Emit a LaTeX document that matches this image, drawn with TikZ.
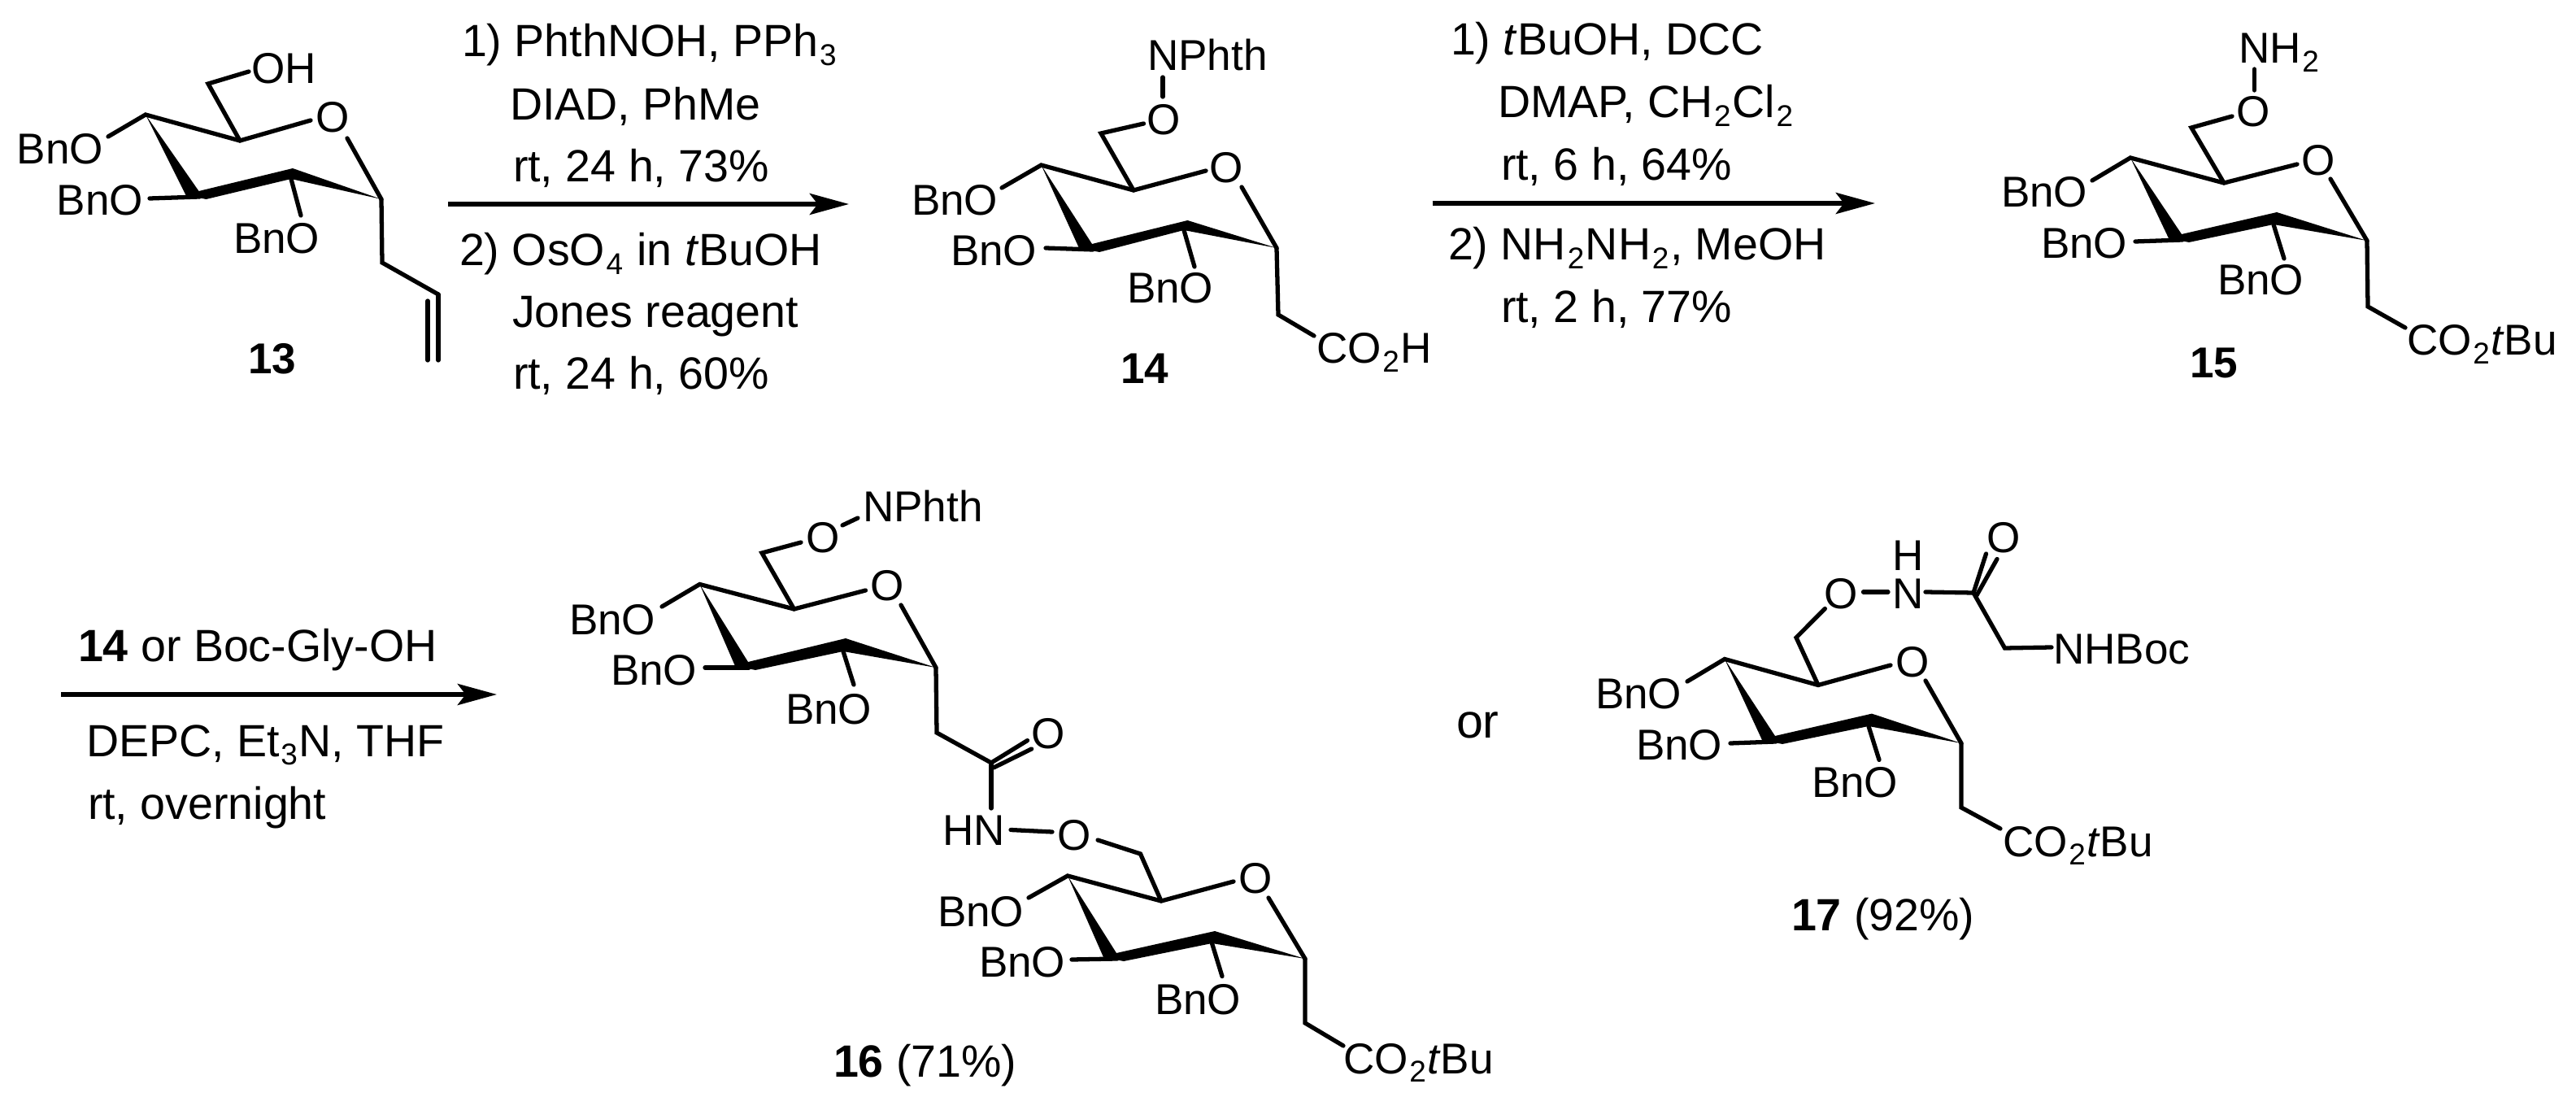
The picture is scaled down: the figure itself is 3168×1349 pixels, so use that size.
\documentclass[tikz,border=0pt]{standalone}
\usepackage{fontspec}
\setmainfont{Liberation Sans}
\usetikzlibrary{calc,arrows.meta}
\newcommand{\sbs}[1]{\kern0.03em\relax\raisebox{-0.19em}{\fontsize{10.5}{12}\selectfont #1}\kern0.03em\relax}
\tikzset{
  bond/.style={line width=1.5pt,line cap=round},
  wedgebond/.style={fill=black},
  rxn/.style={line width=1.6pt,-{Stealth[length=13.7pt,width=7.4pt,inset=2.8pt]}},
  txt/.style={inner sep=0pt,outer sep=0pt,anchor=base west,font=\fontsize{15.1}{18}\selectfont},
  rtxt/.style={inner sep=0pt,outer sep=0pt,anchor=base west,font=\fontsize{15.8}{18}\selectfont},
  atm/.style={inner sep=0pt,outer sep=0pt,anchor=center,font=\fontsize{15.1}{18}\selectfont},
}
\newcommand{\sugar}[1]{%
  \fill[wedgebond] (#1c4) -- ($(#1c3)+(-1,-7)$) -- (#1c2t) -- (#1c1) -- (#1c2b) -- ($(#1c3)+(8,3)$) -- ($(#1c3)+(-17,-2)$) -- cycle;
  \draw[bond] (#1b1) -- (#1c4) -- (#1c5) -- (#1oa);
  \draw[bond] (#1c5) -- (#1c6) -- (#1x);
  \draw[bond] (#1b2) -- (#1c3);
  \draw[bond] (#1ob) -- (#1c1);
  \draw[bond] (#1c2b) -- (#1b3);
  \draw[bond] (#1c1) -- (#1c7) -- (#1c8);
}
\begin{document}
\begin{tikzpicture}[x=0.01cm,y=-0.01cm]
\useasboundingbox (0,0) rectangle (3168,1349);
\fill[white] (0,0) rectangle (3168,1349);

% ---------- 13
\coordinate (ac6) at (256,103);\coordinate (ax) at (306,88);
\coordinate (ac5) at (295,173);\coordinate (aoa) at (382,148);
\coordinate (ac4) at (179,141);\coordinate (ab1) at (133,168);
\coordinate (ac3) at (245.5,242);\coordinate (ab2) at (184,244);
\coordinate (ac2t) at (360,207);\coordinate (ac2b) at (358,220);\coordinate (ab3) at (370,265);
\coordinate (ac1) at (469,245);\coordinate (aob) at (427,170);
\coordinate (ac7) at (470,323);\coordinate (ac8) at (539,362);
\coordinate (av1) at (539,443);\coordinate (av2) at (526,370);\coordinate (av3) at (526,443);
\sugar{a}
\draw[bond] (ac8) -- (av1);
\draw[bond] (av2) -- (av3);
\node[txt] (aOH) at (309,103) {OH};
\node[atm] (aO) at (409,144) {O};
\node[txt] (aBn1) at (21,202) {BnO};
\node[txt] (aBn2) at (70,265) {BnO};
\node[txt] (aBn3) at (287,312) {BnO};
\node[txt] (aLab) at (305,460) {\textbf{13}};

% ---------- arrow 1
\coordinate (r1s) at (551,251);\coordinate (r1e) at (1044,251);
\draw[rxn] (r1s) -- (r1e);
\node[rtxt] (t11) at (568,70) {1) PhthNOH, PPh\sbs{3}};
\node[rtxt] (t12) at (627,148) {DIAD, PhMe};
\node[rtxt] (t13) at (631,224) {rt, 24 h, 73\%};
\node[rtxt] (t14) at (565,327) {2) OsO\sbs{4} in \textit{t}BuOH};
\node[rtxt] (t15) at (630,403) {Jones reagent};
\node[rtxt] (t16) at (631,479) {rt, 24 h, 60\%};

% ---------- 14
\coordinate (bn1) at (1430,95);\coordinate (bn2) at (1430,119);
\coordinate (bc6) at (1354,164);\coordinate (bx) at (1406.5,152);
\coordinate (bc5) at (1394,234);\coordinate (boa) at (1483,210);
\coordinate (bc4) at (1280.5,203);\coordinate (bb1) at (1232,231);
\coordinate (bc3) at (1344,307);\coordinate (bb2) at (1286,305);
\coordinate (bc2t) at (1460.5,271);\coordinate (bc2b) at (1456,283);\coordinate (bb3) at (1469,328);
\coordinate (bc1) at (1570,305);\coordinate (bob) at (1527,230);
\coordinate (bc7) at (1572,387);\coordinate (bc8) at (1616,413);
\sugar{b}
\draw[bond] (bn1) -- (bn2);
\node[txt] (bNPh) at (1411,87) {NPhth};
\node[atm] (bOa) at (1431.5,147) {O};
\node[atm] (bO) at (1508.5,206) {O};
\node[txt] (bBn1) at (1121,265) {BnO};
\node[txt] (bBn2) at (1169,327) {BnO};
\node[txt] (bBn3) at (1386,373) {BnO};
\node[txt] (bCO) at (1619,447) {CO\sbs{2}H};
\node[txt] (bLab) at (1378,472) {\textbf{14}};

% ---------- arrow 2
\coordinate (r2s) at (1761.5,250);\coordinate (r2e) at (2306,250);
\draw[rxn] (r2s) -- (r2e);
\node[rtxt] (t21) at (1784,68) {1) \textit{t}BuOH, DCC};
\node[rtxt] (t22) at (1842,145) {DMAP, CH\sbs{2}Cl\sbs{2}};
\node[rtxt] (t23) at (1846,222) {rt, 6 h, 64\%};
\node[rtxt] (t24) at (1781,320) {2) NH\sbs{2}NH\sbs{2}, MeOH};
\node[rtxt] (t25) at (1846,397) {rt, 2 h, 77\%};

% ---------- 15
\coordinate (cn1) at (2772.5,85);\coordinate (cn2) at (2772.5,111);
\coordinate (cc6) at (2695,157);\coordinate (cx) at (2745,143);
\coordinate (cc5) at (2735,225);\coordinate (coa) at (2825,202);
\coordinate (cc4) at (2620,194);\coordinate (cb1) at (2573,222);
\coordinate (cc3) at (2684,295);\coordinate (cb2) at (2626,297);
\coordinate (cc2t) at (2800,261);\coordinate (cc2b) at (2796,276);\coordinate (cb3) at (2809,318);
\coordinate (cc1) at (2911,296);\coordinate (cob) at (2866,220);
\coordinate (cc7) at (2912,377);\coordinate (cc8) at (2958,403);
\sugar{c}
\draw[bond] (cn1) -- (cn2);
\node[txt] (cNH) at (2753,78) {NH\sbs{2}};
\node[atm] (cOa) at (2771.5,137) {O};
\node[atm] (cO) at (2851,197) {O};
\node[txt] (cBn1) at (2461,255) {BnO};
\node[txt] (cBn2) at (2510,318) {BnO};
\node[txt] (cBn3) at (2727,363) {BnO};
\node[txt] (cCO) at (2960,437) {CO\sbs{2}\textit{t}Bu};
\node[txt] (cLab) at (2693,465) {\textbf{15}};

% ---------- arrow 3
\coordinate (r3s) at (75,854);\coordinate (r3e) at (611,854);
\draw[rxn] (r3s) -- (r3e);
\node[rtxt] (t31) at (96,814) {\textbf{14} or Boc-Gly-OH};
\node[rtxt] (t32) at (106,930) {DEPC, Et\sbs{3}N, THF};
\node[rtxt] (t33) at (108,1007) {rt, overnight};

% ---------- 16 upper ring
\coordinate (dn1) at (1036,646);\coordinate (dn2) at (1055,637);
\coordinate (dc6) at (937,680);\coordinate (dx) at (985,667);
\coordinate (dc5) at (976.5,749);\coordinate (doa) at (1064.5,726);
\coordinate (dc4) at (860.5,718.5);\coordinate (db1) at (814,746);
\coordinate (dc3) at (921,821);\coordinate (db2) at (867,821);
\coordinate (dc2t) at (1040,785);\coordinate (dc2b) at (1037,801);\coordinate (db3) at (1050,842);
\coordinate (dc1) at (1151,821);\coordinate (dob) at (1108,744);
\coordinate (dc7) at (1152,901);\coordinate (dc8) at (1219,938);
\sugar{d}
\draw[bond] (dn1) -- (dn2);
\coordinate (dd1) at (1263.5,910.6);\coordinate (dd2) at (1222,944);\coordinate (dd3) at (1268.6,921);
\draw[bond] (dc8) -- (dd1);
\draw[bond] (dd2) -- (dd3);
\coordinate (dn3) at (1219,994);
\draw[bond] (dc8) -- (dn3);
\coordinate (dn4) at (1243,1020.5);\coordinate (dn5) at (1294,1023);
\draw[bond] (dn4) -- (dn5);
\node[txt] (dNPh) at (1061,642) {NPhth};
\node[atm] (dOa) at (1012,661) {O};
\node[atm] (dO) at (1091,720) {O};
\node[txt] (dBn1) at (700,781) {BnO};
\node[txt] (dBn2) at (751,843) {BnO};
\node[txt] (dBn3) at (966,890) {BnO};
\node[atm] (dOc) at (1289,902) {O};
\node[txt] (dHN) at (1159,1039) {HN};
\node[atm] (dOd) at (1321,1027) {O};

% ---------- 16 lower ring
\coordinate (ec6) at (1402.5,1050);\coordinate (ex) at (1350,1033);
\coordinate (ec5) at (1428,1108);\coordinate (eoa) at (1517,1084);
\coordinate (ec4) at (1313,1077);\coordinate (eb1) at (1265,1104);
\coordinate (ec3) at (1374,1179);\coordinate (eb2) at (1318,1180);
\coordinate (ec2t) at (1494,1145);\coordinate (ec2b) at (1490.5,1160);\coordinate (eb3) at (1503,1200.6);
\coordinate (ec1) at (1605,1179);\coordinate (eob) at (1560,1104);
\coordinate (ec7) at (1605,1258);\coordinate (ec8) at (1652,1286);
\sugar{e}
\node[atm] (eO) at (1544,1080) {O};
\node[txt] (eBn1) at (1153,1139) {BnO};
\node[txt] (eBn2) at (1204,1201) {BnO};
\node[txt] (eBn3) at (1420,1247) {BnO};
\node[txt] (eCO) at (1652,1320) {CO\sbs{2}\textit{t}Bu};
\node[rtxt] (eLab) at (1025,1324) {\textbf{16} (71\%)};

\node[rtxt,font=\fontsize{16.8}{18}\selectfont] (orT) at (1791,908) {or};

% ---------- 17
\coordinate (fc6) at (2209,784);\coordinate (fx) at (2244.4,748.5);
\coordinate (fc5) at (2236,842.5);\coordinate (foa) at (2325,818);
\coordinate (fc4) at (2121,810.5);\coordinate (fb1) at (2075,838);
\coordinate (fc3) at (2184,912);\coordinate (fb2) at (2128,914);
\coordinate (fc2t) at (2302,877.6);\coordinate (fc2b) at (2298,893);\coordinate (fb3) at (2311,934.4);
\coordinate (fc1) at (2412,914);\coordinate (fob) at (2368,837);
\coordinate (fc7) at (2412,993);\coordinate (fc8) at (2460,1019);
\sugar{f}
\coordinate (fn1) at (2291.5,728);\coordinate (fn2) at (2322,728);
\draw[bond] (fn1) -- (fn2);
\coordinate (fk) at (2427,729);\coordinate (fn3) at (2368,728);
\draw[bond] (fn3) -- (fk);
\coordinate (fd1) at (2442.5,681);\coordinate (fd2) at (2431,732);\coordinate (fd3) at (2456,687.5);
\draw[bond] (fk) -- (fd1);
\draw[bond] (fd2) -- (fd3);
\coordinate (fg) at (2465.5,797);\coordinate (fg2) at (2523,796);
\draw[bond] (fk) -- (fg) -- (fg2);
\node[atm] (fOc) at (2464,661) {O};
\node[txt] (fH) at (2327,702) {H};
\node[txt] (fN) at (2327,748.5) {N};
\node[atm] (fOa) at (2264.5,730) {O};
\node[txt] (fNB) at (2525,817) {NHBoc};
\node[atm] (fO) at (2352,814) {O};
\node[txt] (fBn1) at (1962,872) {BnO};
\node[txt] (fBn2) at (2012,934.5) {BnO};
\node[txt] (fBn3) at (2228,981) {BnO};
\node[txt] (fCO) at (2463,1053) {CO\sbs{2}\textit{t}Bu};
\node[rtxt] (fLab) at (2203,1144.5) {\textbf{17} (92\%)};
\end{tikzpicture}
\end{document}
